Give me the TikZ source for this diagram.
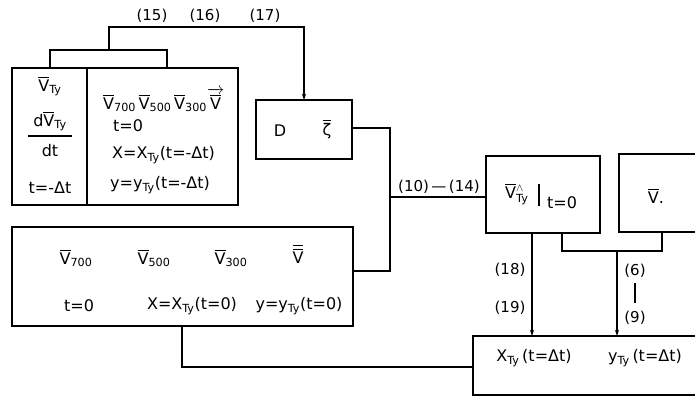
\documentclass[tikz,border=0pt]{standalone}
\usepackage{amsmath}
\usepackage{fontspec}
\setmainfont{DejaVu Sans}
\usetikzlibrary{arrows.meta}
\newcommand\ovl[1]{\ensuremath{\overline{\text{#1}}}}
\newcommand\sbs[1]{\ensuremath{_{\text{#1}}}}
\begin{document}
\begin{tikzpicture}[x=1pt,y=-1pt,
  box/.style={draw,line width=1.2pt},
  wire/.style={line width=1.1pt},
  arr/.style={wire,-{Stealth[length=6pt,width=4pt]}},
  txt/.style={font=\fontsize{16}{18}\selectfont,inner sep=0pt},
  lbl/.style={font=\fontsize{15}{17}\selectfont,inner sep=0pt}]
\useasboundingbox (0,0) rectangle (695,397);
\begin{scope}
\clip (0,0) rectangle (695,397);
% boxes
\draw[box] (12,68) rectangle (238,205);
\draw[box] (87,68) -- (87,205);
\draw[box] (256,100) rectangle (352,159);
\draw[box] (12,227) rectangle (353,326);
\draw[box] (486,156) rectangle (600,233);
\draw[box] (619,154) rectangle (710,232);
\draw[box] (473,336) rectangle (710,395);
% named anchors
\coordinate (ab1) at (50,68);
\coordinate (ab2) at (167,68);
\coordinate (dtop) at (304,100);
\coordinate (dright) at (352,128);
\coordinate (bright) at (353,271);
\coordinate (vleft) at (486,197);
\coordinate (vb1) at (532,233);
\coordinate (vb2) at (562,233);
\coordinate (wb) at (662,232);
\coordinate (xt1) at (532,336);
\coordinate (xt2) at (617,336);
\coordinate (bbot) at (182,326);
\coordinate (xleft) at (473,367);
% connectors
\draw[wire] (ab1) -- (50,50) -- (167,50) -- (ab2);
\draw[arr] (109,50) -- (109,27) -- (304,27) -- (dtop);
\draw[wire] (dright) -- (390,128) -- (390,271) -- (bright);
\draw[wire] (390,197) -- (vleft);
\draw[wire] (vb2) -- (562,251) -- (662,251) -- (wb);
\draw[arr] (617,251) -- (xt2);
\draw[arr] (vb1) -- (xt1);
\draw[wire] (bbot) -- (182,367) -- (xleft);
\draw[wire] (635,283) -- (635,303);
\end{scope}
% upper-left box text
\node[txt] (a1) at (50,86) {\ovl{V}\sbs{Ty}};
\node[txt] (a2) at (50,121) {d\ovl{V}\sbs{Ty}};
\draw[wire] (28,136) -- (72,136);
\node[txt] (a3) at (50,151) {dt};
\node[txt] (a4) at (50,188) {t=-Δt};
\node[txt,anchor=west] (a5) at (103,100) {\ovl{V}\sbs{700}\,\ovl{V}\sbs{500}\,\ovl{V}\sbs{300}$\overrightarrow{\overline{\text{V}}}$};
\node[txt,anchor=west] (a6) at (113,126) {t=0};
\node[txt,anchor=west] (a7) at (112,155) {X=X\sbs{Ty}(t=-Δt)};
\node[txt,anchor=west] (a8) at (110,185) {y=y\sbs{Ty}(t=-Δt)};
% D box
\node[txt] (d1) at (280,131) {D};
\node[txt] (d2) at (327,129) {\ovl{ζ}};
% lower-left box text
\node[txt] (b1) at (76,258) {\ovl{V}\sbs{700}};
\node[txt] (b2) at (154,258) {\ovl{V}\sbs{500}};
\node[txt] (b3) at (231,258) {\ovl{V}\sbs{300}};
\node[txt] (b4) at (298,254) {$\overline{\overline{\text{V}}}$};
\node[txt] (b5) at (79,306) {t=0};
\node[txt] (b6) at (192,306) {X=X\sbs{Ty}(t=0)};
\node[txt] (b7) at (299,306) {y=y\sbs{Ty}(t=0)};
% right boxes text
\node[txt,anchor=west] (c1) at (505,194) {\ovl{V}$^{\wedge}_{\text{Ty}}$};
\draw[wire] (539,184) -- (539,206);
\node[txt,anchor=west] (c3) at (547,203) {t=0};
\node[txt] (c2) at (656,196) {\ovl{V}.};
\node[txt] (e1) at (534,358) {X\sbs{Ty}\,(t=Δt)};
\node[txt] (e2) at (645,358) {y\sbs{Ty}\,(t=Δt)};
% labels
\node[lbl] (l15) at (152,16) {(15)};
\node[lbl] (l16) at (205,16) {(16)};
\node[lbl] (l17) at (265,16) {(17)};
\node[lbl] (l10) at (439,187) {(10)\,—\,(14)};
\node[lbl] (l18) at (510,270) {(18)};
\node[lbl] (l19) at (510,308) {(19)};
\node[lbl] (l6) at (635,271) {(6)};
\node[lbl] (l9) at (635,318) {(9)};
\end{tikzpicture}
\end{document}
